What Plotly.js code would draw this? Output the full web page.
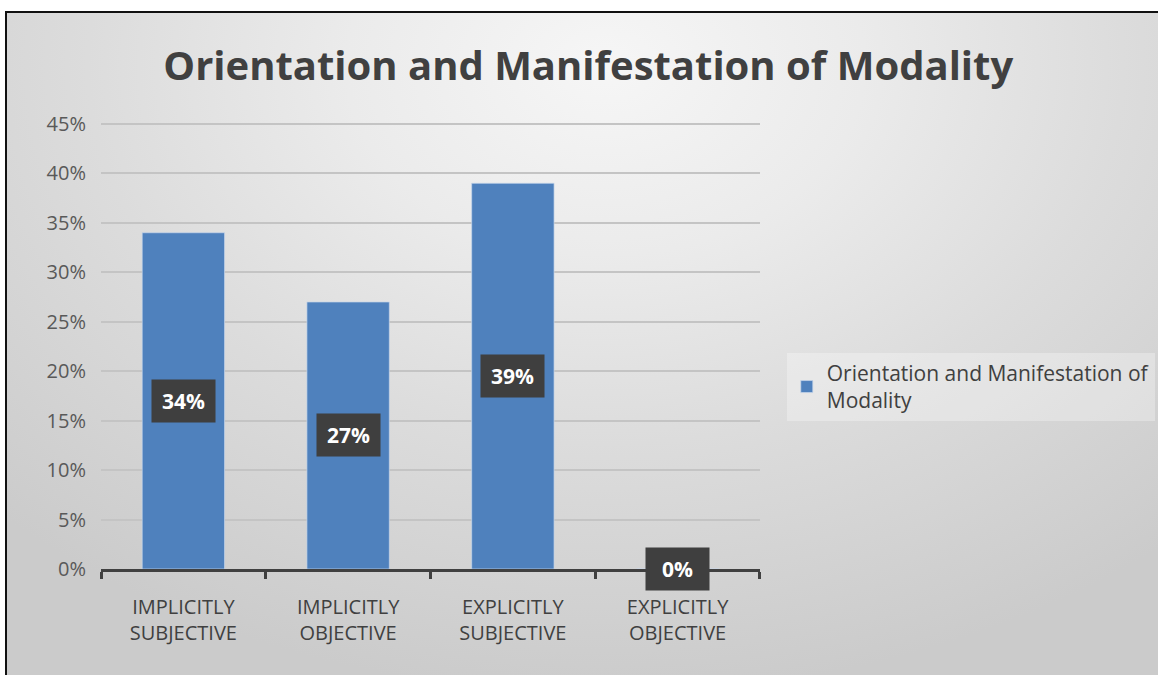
<!DOCTYPE html>
<html>
<head>
<meta charset="utf-8">
<script src="https://cdn.plot.ly/plotly-3.0.1.min.js"></script>
<style>
html,body{margin:0;padding:0;background:#fff;width:1158px;height:675px;overflow:hidden;}
#bg{position:absolute;left:5px;top:11px;width:1153px;height:664px;box-sizing:border-box;
border-left:2px solid #111;border-top:2px solid #111;
background:radial-gradient(ellipse 75% 95% at 52% 8%, #f6f6f6 0%, #ebebeb 30%, #dcdcdc 60%, #cbcbcb 100%);}
#chart{position:absolute;left:0;top:0;width:1158px;height:675px;}
</style>
</head>
<body>
<div id="bg"></div>
<div id="chart"></div>
<script>
var categories = ["IMPLICITLY<br>SUBJECTIVE", "IMPLICITLY<br>OBJECTIVE", "EXPLICITLY<br>SUBJECTIVE", "EXPLICITLY<br>OBJECTIVE"];
var values = [0.34, 0.27, 0.39, 0];
var labels = ["34%", "27%", "39%", "0%"];
var seriesName = "Orientation and Manifestation of<br>Modality";
var yTickVals = [0, 0.05, 0.10, 0.15, 0.20, 0.25, 0.30, 0.35, 0.40, 0.45];
var yTickText = ["0%", "5%", "10%", "15%", "20%", "25%", "30%", "35%", "40%", "45%"];

var font = "Open Sans, Noto Sans, sans-serif";

var trace = {
  type: "bar",
  x: categories,
  y: values,
  name: seriesName,
  marker: {color: "#4f81bd", line: {color: "rgba(200,215,235,0.7)", width: 1}},
  hoverinfo: "none",
  showlegend: true
};

var annotations = categories.map(function(c, i){
  return {
    x: c, y: values[i] / 2, xref: "x", yref: "y",
    text: "<b>" + labels[i] + "</b>", showarrow: false,
    font: {family: font, size: 21, color: "#ffffff"},
    bgcolor: "#3f3f3f", borderpad: 5, width: 53, height: 32
  };
});

var layout = {
  width: 1158, height: 675,
  paper_bgcolor: "rgba(0,0,0,0)", plot_bgcolor: "rgba(0,0,0,0)",
  margin: {l: 101, r: 10, t: 119, b: 106, autoexpand: false},
  title: {text: "<b>Orientation and Manifestation of Modality</b>",
          font: {family: font, size: 40, color: "#404040"},
          x: 0.508, xanchor: "center", y: 0.902, yanchor: "middle"},
  bargap: 0.5,
  xaxis: {
    type: "category",
    domain: [0, 0.6294],
    showgrid: false, zeroline: false,
    showline: true, linecolor: "#404040", linewidth: 3,
    ticks: "outside", tickson: "boundaries", ticklen: 7, tickwidth: 3, tickcolor: "#404040",
    tickfont: {family: font, size: 20, color: "#404040"},
    ticklabelstandoff: 18,
    automargin: false
  },
  yaxis: {
    range: [0, 0.455],
    tickvals: yTickVals, ticktext: yTickText,
    showgrid: true, gridcolor: "#c4c4c4", gridwidth: 2,
    zeroline: false, showline: false, ticks: "",
    tickfont: {family: font, size: 20, color: "#595959"},
    ticklabelstandoff: 14,
    automargin: false
  },
  legend: {
    x: 0.655, y: 0.405, xanchor: "left", yanchor: "middle",
    xref: "paper", yref: "paper",
    bgcolor: "rgba(255,255,255,0.3)", borderwidth: 0,
    font: {family: font, size: 21, color: "#404040"},
    itemwidth: 30
  },
  annotations: annotations
};

Plotly.newPlot("chart", [trace], layout, {displayModeBar: false, staticPlot: true});
</script>
</body>
</html>
